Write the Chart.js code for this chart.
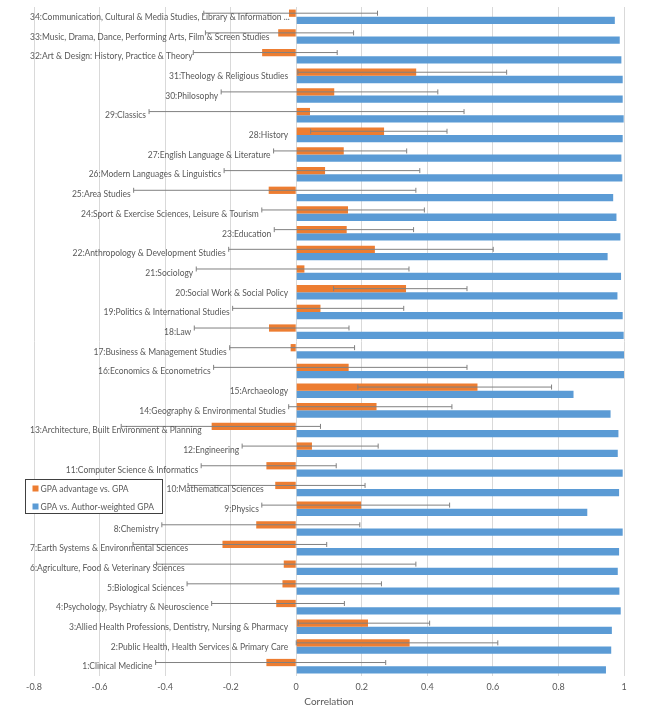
<!DOCTYPE html>
<html>
<head>
<meta charset="utf-8">
<script src="https://cdn.jsdelivr.net/npm/chart.js@4.4.0/dist/chart.umd.min.js"></script>
<style>
  html, body { margin: 0; padding: 0; background: #fff; }
  #wrap { width: 650px; height: 715px; }
</style>
</head>
<body>
<div id="wrap"><canvas id="chart"></canvas></div>
<script>
// Units of assessment, 1..34 (drawn bottom to top)
const categories = [
  '1:Clinical Medicine',
  '2:Public Health, Health Services & Primary Care',
  '3:Allied Health Professions, Dentistry, Nursing & Pharmacy',
  '4:Psychology, Psychiatry & Neuroscience',
  '5:Biological Sciences',
  '6:Agriculture, Food & Veterinary Sciences',
  '7:Earth Systems & Environmental Sciences',
  '8:Chemistry',
  '9:Physics',
  '10:Mathematical Sciences',
  '11:Computer Science & Informatics',
  '12:Engineering',
  '13:Architecture, Built Environment & Planning',
  '14:Geography & Environmental Studies',
  '15:Archaeology',
  '16:Economics & Econometrics',
  '17:Business & Management Studies',
  '18:Law',
  '19:Politics & International Studies',
  '20:Social Work & Social Policy',
  '21:Sociology',
  '22:Anthropology & Development Studies',
  '23:Education',
  '24:Sport & Exercise Sciences, Leisure & Tourism',
  '25:Area Studies',
  '26:Modern Languages & Linguistics',
  '27:English Language & Literature',
  '28:History',
  '29:Classics',
  '30:Philosophy',
  '31:Theology & Religious Studies',
  '32:Art & Design: History, Practice & Theory',
  '33:Music, Drama, Dance, Performing Arts, Film & Screen Studies',
  '34:Communication, Cultural & Media Studies, Library & Information Management'
];

// GPA advantage vs. GPA (correlation) with its confidence interval
const advantage = [-0.091, 0.346, 0.219, -0.061, -0.042, -0.038, -0.225, -0.122, 0.198, -0.064,
  -0.091, 0.048, -0.258, 0.245, 0.553, 0.16, -0.017, -0.083, 0.074, 0.335,
  0.025, 0.24, 0.154, 0.158, -0.084, 0.088, 0.145, 0.268, 0.042, 0.116,
  0.366, -0.104, -0.055, -0.022];
const advLower = [-0.429, 0.0, 0.006, -0.258, -0.333, -0.426, -0.498, -0.41, -0.105, -0.33,
  -0.29, -0.165, -0.534, -0.023, 0.188, -0.252, -0.203, -0.311, -0.194, 0.114,
  -0.305, -0.206, -0.067, -0.105, -0.496, -0.22, -0.069, 0.044, -0.449, -0.229,
  0.005, -0.314, -0.277, -0.282];
const advUpper = [0.273, 0.615, 0.407, 0.147, 0.26, 0.365, 0.093, 0.194, 0.468, 0.21,
  0.122, 0.25, 0.074, 0.475, 0.779, 0.521, 0.178, 0.161, 0.328, 0.521,
  0.344, 0.601, 0.358, 0.391, 0.365, 0.377, 0.337, 0.46, 0.512, 0.432,
  0.642, 0.125, 0.175, 0.248];

// GPA vs. Author-weighted GPA
const authorWeighted = [0.945, 0.961, 0.963, 0.99, 0.986, 0.981, 0.985, 0.996, 0.888, 0.985,
  0.996, 0.981, 0.983, 0.959, 0.846, 1.0, 1.0, 0.999, 0.996, 0.98,
  0.991, 0.95, 0.989, 0.977, 0.967, 0.995, 0.992, 0.996, 0.999, 0.996,
  0.996, 0.992, 0.987, 0.972];

const seriesNames = ['GPA advantage vs. GPA', 'GPA vs. Author-weighted GPA'];
const seriesColors = ['#ED7D31', '#5B9BD5'];

const textFont = '8.5px Lato, "Liberation Sans", sans-serif';
const textColor = '#595959';

// legend box placement
const legendBox = { x: 25.5, y: 479.5, w: 137, h: 34 };

// Error bars drawn on top of the orange bars
const errorBars = {
  id: 'errorBars',
  afterDatasetsDraw(chart) {
    const ctx = chart.ctx;
    const x = chart.scales.x;
    const bars = chart.getDatasetMeta(0).data;
    ctx.save();
    ctx.strokeStyle = '#808080';
    ctx.lineWidth = 1;
    bars.forEach((bar, i) => {
      const x1 = x.getPixelForValue(advLower[i]);
      const x2 = x.getPixelForValue(advUpper[i]);
      const y = bar.y;
      ctx.beginPath();
      ctx.moveTo(x1, y);
      ctx.lineTo(x2, y);
      ctx.moveTo(x1, y - 2.5);
      ctx.lineTo(x1, y + 2.5);
      ctx.moveTo(x2, y - 2.5);
      ctx.lineTo(x2, y + 2.5);
      ctx.stroke();
    });
    ctx.restore();
  }
};

// Category names placed left of each interval, plus the boxed legend
const labelsAndLegend = {
  id: 'labelsAndLegend',
  afterDraw(chart) {
    const ctx = chart.ctx;
    const x = chart.scales.x;
    const y = chart.scales.y;
    const zero = x.getPixelForValue(0);
    const lb = legendBox;
    ctx.save();
    ctx.font = textFont;
    ctx.fillStyle = textColor;
    ctx.textBaseline = 'middle';
    ctx.textAlign = 'left';
    const maxWidth = 264;
    categories.forEach((name, i) => {
      let text = name;
      if (ctx.measureText(text).width > maxWidth) {
        while (ctx.measureText(text + '...').width > maxWidth) text = text.slice(0, -1);
        text += '...';
      }
      const w = ctx.measureText(text).width;
      const cy = y.getPixelForValue(i);
      const right = Math.min(x.getPixelForValue(advLower[i]) - 3, zero - 8);
      let left = Math.max(right - w, 30);
      // keep the label clear of the legend
      if (cy > lb.y - 5 && cy < lb.y + lb.h + 5 && left < lb.x + lb.w + 4) {
        left = lb.x + lb.w + 4;
      }
      ctx.fillText(text, left, cy + 0.5);
    });

    // legend box
    ctx.fillStyle = '#fff';
    ctx.fillRect(lb.x, lb.y, lb.w, lb.h);
    ctx.strokeStyle = '#404040';
    ctx.lineWidth = 1;
    ctx.strokeRect(lb.x, lb.y, lb.w, lb.h);
    seriesNames.forEach((name, k) => {
      const cy = lb.y + 9 + k * 18;
      ctx.fillStyle = seriesColors[k];
      ctx.fillRect(lb.x + 7, cy - 3, 6, 6);
      ctx.fillStyle = textColor;
      ctx.fillText(name, lb.x + 15, cy + 0.5);
    });
    ctx.restore();
  }
};

new Chart(document.getElementById('chart'), {
  type: 'bar',
  data: {
    labels: categories,
    datasets: [
      { label: seriesNames[0], data: advantage, backgroundColor: seriesColors[0] },
      { label: seriesNames[1], data: authorWeighted, backgroundColor: seriesColors[1] }
    ]
  },
  options: {
    indexAxis: 'y',
    responsive: true,
    maintainAspectRatio: false,
    animation: false,
    devicePixelRatio: 1,
    layout: { padding: { left: 34, right: 26, top: 7, bottom: 0 } },
    datasets: { bar: { categoryPercentage: 0.74, barPercentage: 1 } },
    plugins: { legend: { display: false }, tooltip: { enabled: false } },
    scales: {
      x: {
        min: -0.8,
        max: 1,
        afterFit(scale) { scale.height = 39; },
        ticks: {
          stepSize: 0.2,
          padding: 6,
          color: textColor,
          font: { family: 'Lato, "Liberation Sans", sans-serif', size: 9 },
          maxRotation: 0,
          callback: v => String(Math.round(v * 10) / 10)
        },
        grid: { color: '#d9d9d9', drawTicks: false },
        border: { display: false },
        title: {
          display: true,
          text: 'Correlation',
          color: textColor,
          font: { family: 'Lato, "Liberation Sans", sans-serif', size: 10 },
          padding: { top: 0, bottom: 7 }
        }
      },
      y: {
        reverse: true,
        display: false
      }
    }
  },
  plugins: [errorBars, labelsAndLegend]
});
</script>
</body>
</html>
